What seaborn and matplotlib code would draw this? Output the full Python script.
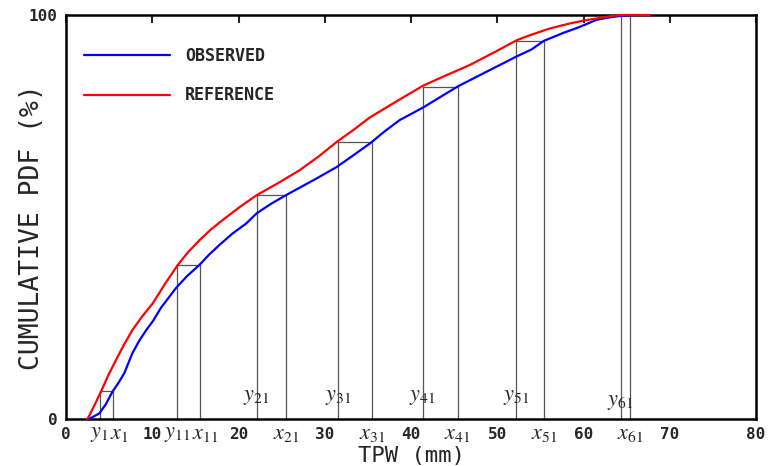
import numpy as np
import pandas as pd
import matplotlib
matplotlib.use("Agg")
import matplotlib.pyplot as plt
import seaborn as sns

# cumulative pdf curves (TPW in mm, cumulative %)
obs_tpw = [2.6, 3.2, 3.87, 4.6, 5.4, 6.1, 6.75, 7.7, 8.5, 9.3, 10.1, 11.0, 12.75, 14.0,
           15.45, 16.6, 17.8, 19.3, 20.9, 22.1, 23.8, 25.5, 27.3, 29.1, 31.4, 33.4,
           35.3, 37.0, 38.7, 41.4, 45.4, 48.8, 52.3, 54.0, 55.4, 57.7, 59.5, 61.5,
           63.0, 64.2, 65.7]
obs_cdf = [0.0, 0.6, 1.4, 3.6, 6.8, 9.0, 11.3, 16.3, 19.4, 22.0, 24.3, 27.5, 32.4, 35.3,
           38.1, 40.7, 43.1, 45.9, 48.4, 50.9, 53.3, 55.4, 57.5, 59.6, 62.4, 65.4,
           68.3, 71.3, 74.0, 77.1, 82.3, 86.0, 89.8, 91.5, 93.6, 95.6, 97.0, 98.8,
           99.4, 99.75, 100.0]

ref_tpw = [2.5, 3.3, 4.06, 4.9, 5.8, 6.7, 7.7, 8.8, 10.05, 11.5, 12.95, 14.2, 15.5,
           16.8, 18.2, 20.1, 22.1, 24.6, 27.1, 29.3, 31.4, 33.3, 35.2, 38.3, 41.4,
           44.0, 46.8, 49.6, 52.3, 53.8, 56.0, 58.4, 60.0, 62.2, 64.2, 67.7]
ref_cdf = [0.0, 3.4, 6.8, 10.8, 14.6, 18.3, 22.0, 25.3, 28.6, 33.5, 38.1, 41.4, 44.3,
           46.9, 49.3, 52.4, 55.4, 58.4, 61.6, 65.0, 68.6, 71.5, 74.6, 78.6, 82.5,
           85.0, 87.6, 90.7, 93.8, 95.0, 96.6, 97.9, 98.6, 99.4, 100.0, 100.0]

# quantile matching pairs: reference value y_i and observed value x_i at same level
y_vals = [3.94, 12.9, 22.1, 31.5, 41.35, 52.2, 64.3]
x_vals = [5.45, 15.5, 25.5, 35.5, 45.4, 55.4, 65.4]
levels = [7.0, 38.1, 55.4, 68.5, 82.3, 93.6, 100.0]
pair_ids = ["1", "11", "21", "31", "41", "51", "61"]

x_ticks = [0, 10, 20, 30, 40, 50, 60, 70, 80]

sns.set_style("white")
plt.rcParams['font.family'] = ['DejaVu Sans Mono', 'DejaVu Sans']
plt.rcParams['mathtext.fontset'] = 'stix'

df = pd.concat([
    pd.DataFrame({"tpw": obs_tpw, "cdf": obs_cdf, "set": "OBSERVED"}),
    pd.DataFrame({"tpw": ref_tpw, "cdf": ref_cdf, "set": "REFERENCE"}),
])

fig = plt.figure(figsize=(7.71, 4.66), dpi=100)
ax = fig.add_axes([66 / 771, 47 / 466, 690 / 771, 404 / 466])

# boxes linking y_i and x_i
for yv, xv, lv in zip(y_vals, x_vals, levels):
    ax.plot([yv, yv, xv, xv], [0, lv, lv, 0], color="#555555", lw=0.9, zorder=1)

sns.lineplot(data=df, x="tpw", y="cdf", hue="set", sort=False,
             palette={"OBSERVED": "#0000ff", "REFERENCE": "#ff0000"},
             lw=1.6, ax=ax, zorder=3, clip_on=False)

ax.set_xlim(0, 80)
ax.set_ylim(0, 100)
ax.set_xticks(x_ticks)
ax.set_yticks([0, 100])
ax.tick_params(axis="x", direction="in", top=True, length=6, width=1.5, pad=6,
               labelsize=11.5)
ax.tick_params(axis="y", length=0, pad=6, labelsize=11.5)
for lab in ax.get_xticklabels() + ax.get_yticklabels():
    lab.set_fontweight("bold")
for sp in ax.spines.values():
    sp.set_linewidth(1.8)
    sp.set_color("black")

ax.set_xlabel("TPW (mm)", fontsize=16)
ax.xaxis.set_label_coords(0.5, -0.066)
ax.xaxis.label.set_va("top")
ax.set_ylabel("CUMULATIVE PDF (%)", fontsize=19)
ax.yaxis.set_label_coords(-0.049, 0.476)
ax.yaxis.label.set_va("center")

# labels for y_i and x_i
lab_y = -0.036
trans = ax.get_xaxis_transform()
for i, (yv, xv, pid) in enumerate(zip(y_vals, x_vals, pair_ids)):
    if i < 2:
        mid = (yv + xv) / 2
        ax.annotate(f"$y_{{{pid}}}$", xy=(mid, lab_y), xycoords=trans,
                    xytext=(1.5, 0), textcoords="offset points",
                    ha="right", va="center", fontsize=16, annotation_clip=False)
        ax.annotate(f"$x_{{{pid}}}$", xy=(mid, lab_y), xycoords=trans,
                    xytext=(2.5, 0), textcoords="offset points",
                    ha="left", va="center", fontsize=16, annotation_clip=False)
    else:
        yy = 0.042 if i == len(y_vals) - 1 else 0.055
        ax.text(yv, yy, f"$y_{{{pid}}}$", transform=trans, ha="center", va="center",
                fontsize=16)
        ax.text(xv, lab_y, f"$x_{{{pid}}}$", transform=trans, ha="center",
                va="center", fontsize=16, clip_on=False)

leg = ax.legend(loc="upper left", bbox_to_anchor=(0.016, 0.938), frameon=False,
                handlelength=5.2, handletextpad=0.9, labelspacing=1.3,
                borderaxespad=0, prop={"weight": "bold", "size": 12})
for line in leg.get_lines():
    line.set_linewidth(1.6)

fig.savefig("out.png", dpi=100)
